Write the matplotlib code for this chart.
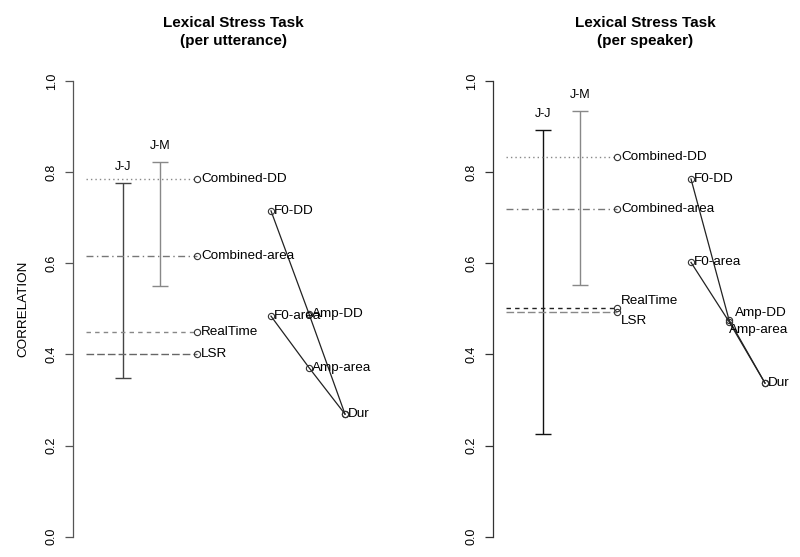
import matplotlib
matplotlib.use("Agg")
import matplotlib.pyplot as plt

plt.rcParams['font.family'] = ['Liberation Sans', 'DejaVu Sans']

# ---- data ----
err_labels = ["J-J", "J-M"]
utt_err_low = [0.348, 0.551]
utt_err_high = [0.777, 0.822]
spk_err_low = [0.225, 0.552]
spk_err_high = [0.892, 0.935]

base_labels = ["Combined-DD", "Combined-area", "RealTime", "LSR"]
utt_base = [0.785, 0.615, 0.450, 0.402]
spk_base = [0.833, 0.719, 0.501, 0.492]

dd_labels = ["F0-DD", "Amp-DD", "Dur"]
area_labels = ["F0-area", "Amp-area", "Dur"]
utt_dd = [0.715, 0.489, 0.269]
utt_area = [0.484, 0.371, 0.269]
spk_dd = [0.785, 0.476, 0.337]
spk_area = [0.602, 0.472, 0.337]

yticks = [0.0, 0.2, 0.4, 0.6, 0.8, 1.0]
titles = ["Lexical Stress Task\n(per utterance)", "Lexical Stress Task\n(per speaker)"]

# ---- layout (pixel-like x units inside each panel) ----
W, H = 800, 557
fig = plt.figure(figsize=(8, 5.57), dpi=100)

err_x = [50, 87]
base_x0, base_x1 = 13, 124
feat_x = [198, 236, 272]

base_styles = [(0, (1, 2.2)), (0, (5, 2.5, 1, 2.5)), (0, (3.2, 3)), (0, (5.5, 2.2))]


def panel(left_px, width_px, err_low, err_high, base, dd, area, title, pid):
    ax = fig.add_axes([left_px / W, (H - 536.7) / H, width_px / W, 455.7 / H])
    ax.set_xlim(0, width_px)
    ax.set_ylim(0, 1)
    for s in ['top', 'right', 'bottom']:
        ax.spines[s].set_visible(False)
    ax.spines['left'].set_color('#555555' if pid == 0 else '#333333')
    ax.spines['left'].set_linewidth(0.9)
    ax.set_xticks([])
    ax.set_yticks(yticks)
    ax.set_yticklabels([f"{v:.1f}" for v in yticks], rotation=90, va='center', fontsize=9)
    ax.tick_params(axis='y', length=6, width=0.9, pad=5,
                   color='#555555' if pid == 0 else '#333333')
    ax.patch.set_alpha(0)

    # error bars
    ecols = ['#444444', '#888888'] if pid == 0 else ['#111111', '#888888']
    for i, lab in enumerate(err_labels):
        mid = (err_low[i] + err_high[i]) / 2
        half = (err_high[i] - err_low[i]) / 2
        ax.errorbar([err_x[i]], [mid], yerr=[[half], [half]], fmt='none',
                    ecolor=ecols[i], elinewidth=1.0, capsize=5.5, capthick=1.0,
                    clip_on=False)
        ax.annotate(lab, (err_x[i], err_high[i]), xytext=(0, 7),
                    textcoords='offset points', ha='center', va='bottom', fontsize=9)

    # baseline horizontal lines
    bcols = ['#888888', '#777777', '#888888', '#666666'] if pid == 0 else \
            ['#888888', '#777777', '#222222', '#888888']
    for i, lab in enumerate(base_labels):
        ax.plot([base_x0, base_x1], [base[i], base[i]], ls=base_styles[i],
                color=bcols[i], lw=1.0)
        ax.plot([base_x1], [base[i]], marker='o', mfc='none', mec='#333333',
                ms=4.5, mew=0.8, clip_on=False)
        dy = 0
        if pid == 1 and lab == "RealTime":
            dy = 5
        if pid == 1 and lab == "LSR":
            dy = -6
        ax.annotate(lab, (base_x1, base[i]), xytext=(3, dy),
                    textcoords='offset points', ha='left', va='center', fontsize=9.7)

    # feature lines
    for vals, labs in ((dd, dd_labels), (area, area_labels)):
        ax.plot(feat_x, vals, color='#222222', lw=0.9, marker='o', mfc='none',
                mec='#333333', ms=4.5, mew=0.8, clip_on=False)
    offs = {
        "F0-DD": (2, 0), "Amp-DD": (2, 0), "Dur": (2, 0),
        "F0-area": (2, 0), "Amp-area": (2, 0),
    }
    if pid == 1:
        offs["Amp-DD"] = (4, 5)
        offs["Amp-area"] = (0, -6)
    for vals, labs in ((dd, dd_labels), (area, area_labels[:2])):
        for j, lab in enumerate(labs):
            ax.annotate(lab, (feat_x[j], vals[j]), xytext=offs[lab],
                        textcoords='offset points', ha='left', va='center', fontsize=9.7)

    if pid == 0:
        ax.set_ylabel("CORRELATION", fontsize=9.7, labelpad=12)
    cx = (left_px + width_px / 2) / W
    fig.text(cx, 1 - 32 / H, title, ha='center', va='center', fontsize=11,
             fontweight='bold', linespacing=1.3)
    return ax


panel(73, 320, utt_err_low, utt_err_high, utt_base, utt_dd, utt_area, titles[0], 0)
panel(493, 304, spk_err_low, spk_err_high, spk_base, spk_dd, spk_area, titles[1], 1)

fig.savefig("out.png", dpi=100)
